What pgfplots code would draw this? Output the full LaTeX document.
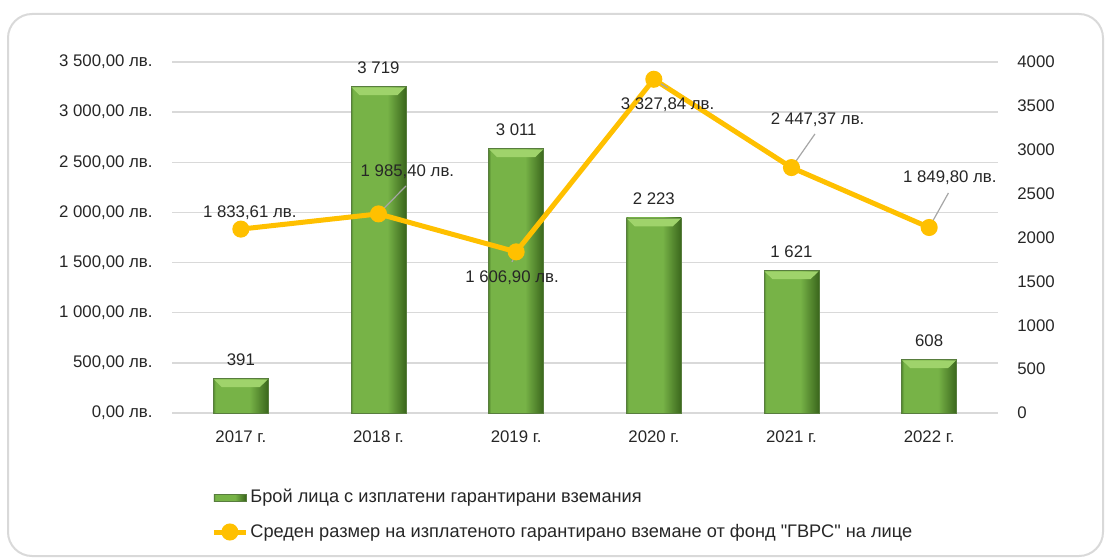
\documentclass[border=0pt]{standalone}
\usepackage{pgfplots}
\pgfplotsset{compat=1.18}
\usepackage{fontspec}
\setmainfont{Liberation Sans}[Ligatures=TeXOff]

\definecolor{gold}{HTML}{FFC000}
\definecolor{gridgray}{HTML}{D9D9D9}
\definecolor{txt}{HTML}{262626}
\definecolor{barmid}{HTML}{77B347}
\definecolor{bardark}{HTML}{3A661C}
\definecolor{barleft}{HTML}{558A30}
\definecolor{barlight}{HTML}{9FD36B}
\definecolor{leader}{HTML}{A6A6A6}
\definecolor{frame}{HTML}{D9D9D9}

% body of each bar: dark left rim, flat green face, darker right side
\pgfdeclarehorizontalshading{barbody}{100bp}{%
  color(0bp)=(barleft); color(25bp)=(barleft); color(27bp)=(barmid);
  color(58bp)=(barmid); color(75bp)=(bardark); color(100bp)=(bardark)}

% light bevel on top of each bar
\pgfdeclareplotmark{bevel}{%
  \pgfpathmoveto{\pgfqpoint{-13.5pt}{-0.3pt}}%
  \pgfpathlineto{\pgfqpoint{13.5pt}{-0.3pt}}%
  \pgfpathlineto{\pgfqpoint{9.5pt}{-4.2pt}}%
  \pgfpathlineto{\pgfqpoint{-9.5pt}{-4.2pt}}%
  \pgfpathclose
  \pgfusepathqfill}

\newcommand{\chartfont}{\fontsize{8.4}{10}\selectfont}
\newcommand{\legendfont}{\fontsize{9.1}{10}\selectfont}

\pgfplotstableread{
x  n
0  391
1  3719
2  3011
3  2223
4  1621
5  608
}\persons

\pgfplotstableread{
x  avg
0  1833.61
1  1985.40
2  1606.90
3  3327.84
4  2447.37
5  1849.80
}\average

\begin{document}
\color{txt}
\begin{tikzpicture}
\path (0,0) rectangle (553.5pt,279pt);
\draw[frame, line width=1pt, rounded corners=12pt] (4pt,1pt) rectangle (551.5pt,272pt);

% number of persons (right scale)
\begin{axis}[
  set layers,
  at={(86pt,72.5pt)}, anchor=south west,
  scale only axis, width=413pt, height=175.5pt,
  xmin=-0.5, xmax=5.5, ymin=0, ymax=4000,
  xtick=\empty,
  ytick={0,500,...,4000},
  yticklabel pos=right,
  axis line style={draw=none},
  major tick length=0pt,
  scaled y ticks=false,
  /pgf/number format/.cd, 1000 sep={}, assume math mode=true,
  /pgfplots/.cd,
  yticklabel style={font=\chartfont, inner sep=0pt, xshift=9.5pt, text=txt},
]
% one plot per bar so that each bar gets its own shading
\pgfplotsinvokeforeach{0,...,5}{%
\addplot[ybar, bar width=27.5pt, bar shift=0pt,
  restrict x to domain=#1:#1,
  shade, shading=barbody, draw=bardark!85, line width=0.4pt,
  nodes near coords={\pgfmathprintnumber[1000 sep={\ },assume math mode=true]{\pgfplotspointmeta}},
  every node near coord/.append style={font=\chartfont, text=txt, anchor=south, inner sep=0pt, yshift=6.5pt}]
  table[x=x, y=n] {\persons};
}
\addplot[only marks, mark=bevel, mark options={fill=barlight, draw=none}]
  table[x=x, y=n] {\persons};
\end{axis}

% average paid claim (left scale)
\begin{axis}[
  set layers,
  at={(86pt,72.5pt)}, anchor=south west,
  scale only axis, width=413pt, height=175.5pt,
  xmin=-0.5, xmax=5.5, ymin=0, ymax=3500,
  xtick={0,...,5},
  xticklabels={2017 г.,2018 г.,2019 г.,2020 г.,2021 г.,2022 г.},
  ytick={0,500,...,3500},
  yticklabel={\pgfmathprintnumber[fixed,fixed zerofill,precision=2,use comma,1000 sep={\ },assume math mode=true]{\tick}\ лв.},
  ymajorgrids,
  grid style={gridgray, line width=0.75pt},
  axis line style={draw=none},
  major tick length=0pt,
  scaled y ticks=false,
  yticklabel style={font=\chartfont, inner sep=0pt, xshift=-9.5pt, text=txt},
  xticklabel style={font=\chartfont, inner sep=0pt, yshift=-8.5pt, text=txt},
  legend style={at={(0,0)}, anchor=north west, xshift=19.5pt, yshift=-37pt,
    draw=none, fill=none, inner sep=0pt, row sep=7pt,
    font=\legendfont, text=txt, nodes={inner sep=1pt}},
  legend cell align=left,
]
\addlegendimage{legend image code/.code={%
  \shade[shading=barbody, draw=bardark!85, line width=0.4pt] (0pt,-1.8pt) rectangle (16pt,1.8pt);}}
\addlegendentry{Брой лица с изплатени гарантирани вземания}
\addplot[gold, line width=2.5pt, mark=*, mark size=3pt,
  mark options={fill=gold, draw=gold},
  legend image code/.code={%
    \draw[gold, line width=2.5pt] (0pt,0pt) -- (16pt,0pt);
    \fill[gold] (8pt,0pt) circle (3pt);}]
  table[x=x, y=avg] {\average};
\addlegendentry{Среден размер на изплатеното гарантирано вземане от фонд "ГВРС" на лице}

% leader lines and value labels of the average
\begin{scope}[leader, line width=0.6pt]
\draw (axis cs:1,1985.40) -- (axis cs:1.20,2264);
\draw (axis cs:2,1606.90) -- (axis cs:1.97,1506);
\draw (axis cs:3,3327.84) -- (axis cs:3.10,3241);
\draw (axis cs:4,2447.37) -- (axis cs:4.17,2782);
\draw (axis cs:5,1849.80) -- (axis cs:5.14,2194);
\end{scope}
\begin{scope}[every node/.style={font=\chartfont, text=txt, inner sep=0pt}]
\node at (axis cs:0.065,1994) {1\ 833,61 лв.};
\node at (axis cs:1.21,2403) {1\ 985,40 лв.};
\node at (axis cs:1.97,1346) {1\ 606,90 лв.};
\node at (axis cs:3.10,3071) {3\ 327,84 лв.};
\node at (axis cs:4.19,2922) {2\ 447,37 лв.};
\node at (axis cs:5.15,2343) {1\ 849,80 лв.};
\end{scope}
\end{axis}
\end{tikzpicture}
\end{document}
